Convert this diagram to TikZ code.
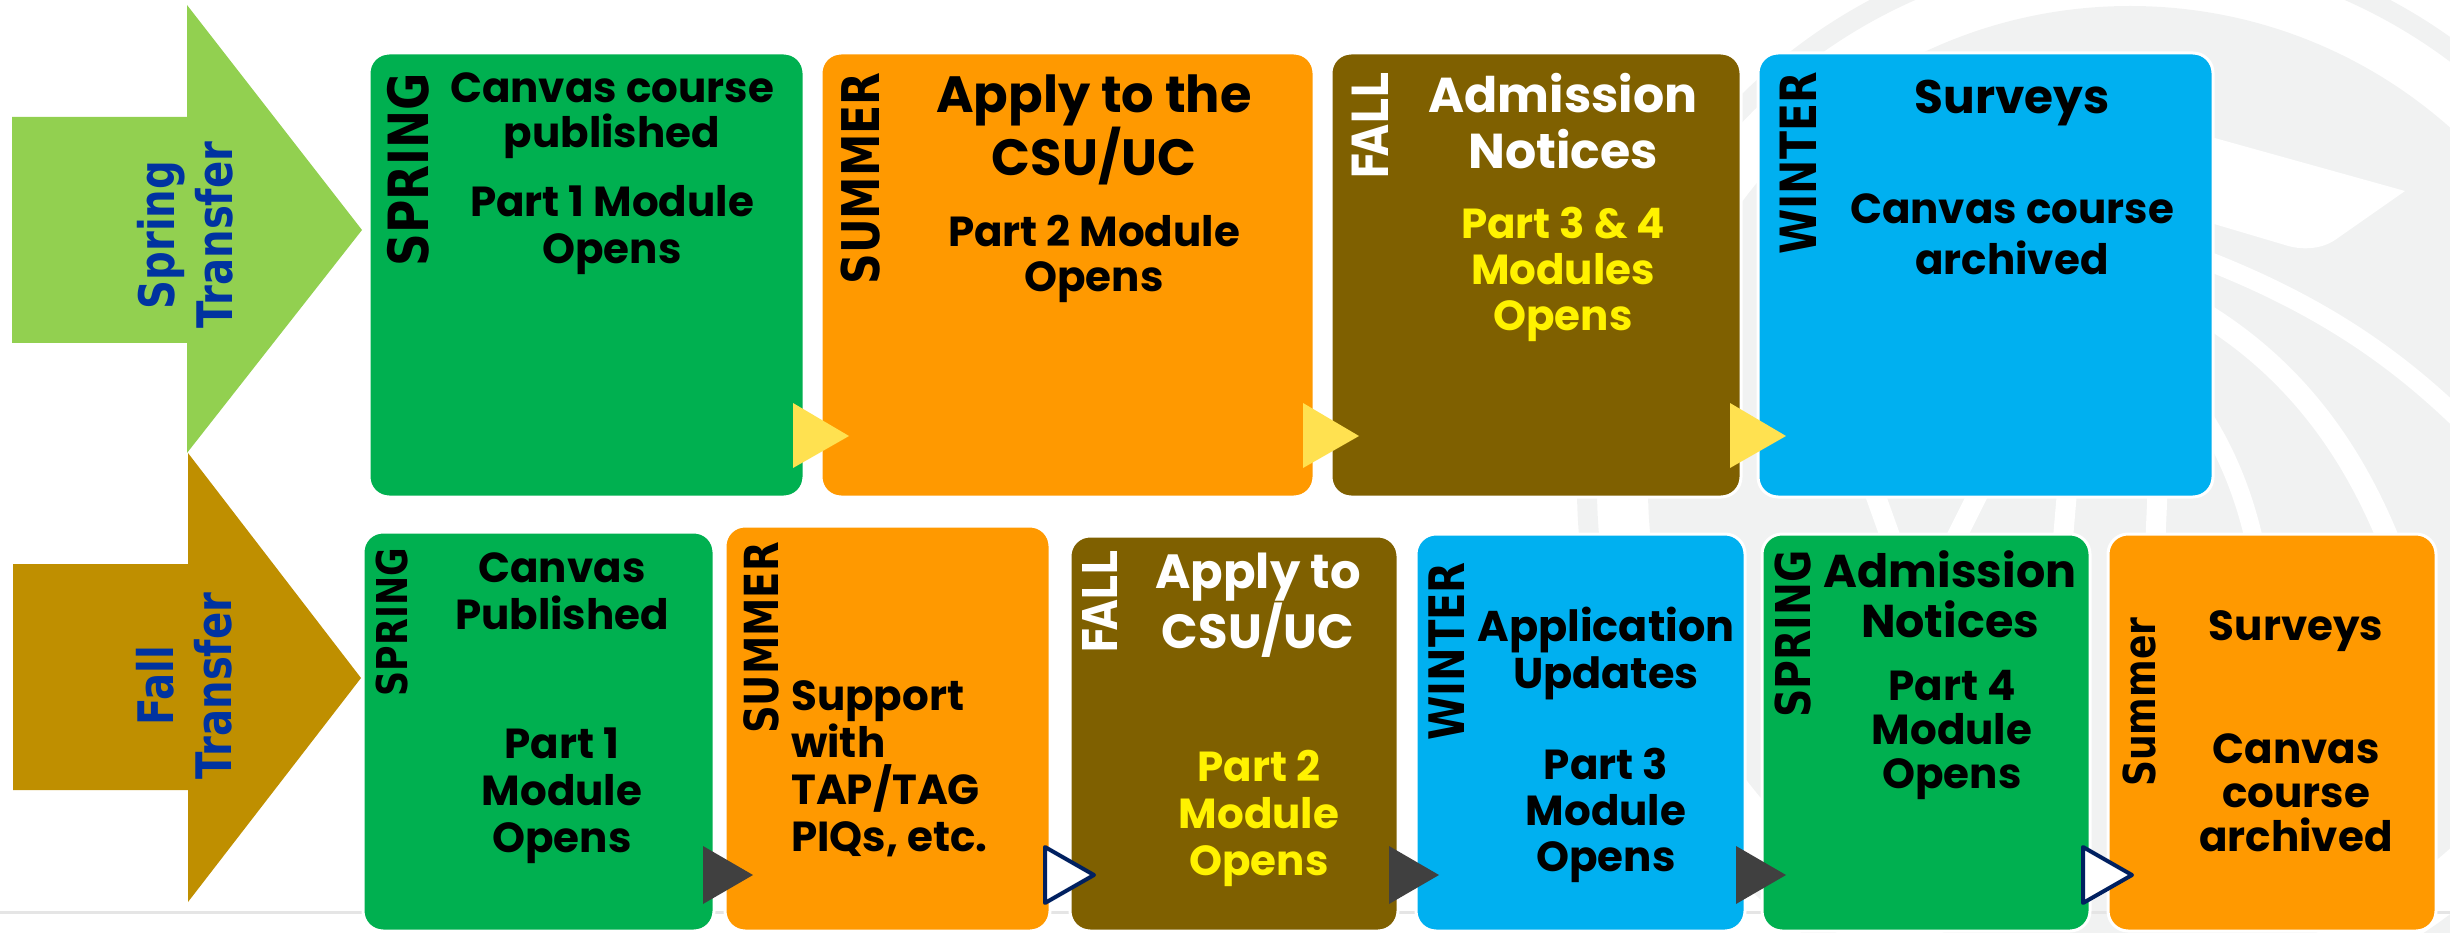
\documentclass[tikz,border=0pt]{standalone}
\usepackage{fontspec}
\usepackage{xcolor}
\usepackage{tikz}

\newfontfamily\cardfont{Poppins}
\newfontfamily\seasonfont{DejaVu Sans}[FakeStretch=0.82]

\definecolor{springgreen}{HTML}{00B050}
\definecolor{summerorange}{HTML}{FF9900}
\definecolor{fallbrown}{HTML}{7F6000}
\definecolor{winterblue}{HTML}{00B0F0}
\definecolor{lightgreen}{HTML}{92D050}
\definecolor{goldbrown}{HTML}{BF8F00}
\definecolor{tipyellow}{HTML}{FFE150}
\definecolor{tipgray}{HTML}{404040}
\definecolor{navy}{HTML}{002060}
\definecolor{labelblue}{HTML}{0033A0}
\definecolor{wmark}{HTML}{F1F2F2}

\tikzset{
  card/.style={draw=white, line width=3pt, rounded corners=20pt, inner sep=0pt},
  season/.style={font=\seasonfont\bfseries\fontsize{#1}{#1}\selectfont,
    rotate=90, anchor=east, inner sep=0pt},
  txt/.style 2 args={font=\cardfont\bfseries\fontsize{#1}{#2}\selectfont,
    align=center, anchor=north, inner sep=0pt},
  transfer/.style={font=\seasonfont\bfseries\fontsize{49}{58}\selectfont,
    rotate=90, align=center, text=labelblue, inner sep=0pt}
}

\begin{document}
\begin{tikzpicture}[x=1pt, y=-1pt]

  \useasboundingbox (0,0) rectangle (2450,933);

  % faint seal behind the right side
  \begin{scope}
    \clip (0,0) rectangle (2450,933);
    \fill[wmark] (2130,488) circle[radius=482pt];
    \draw[wmark, line width=20pt] (2130,488) circle[radius=543pt];
    \fill[white] (2150,120) -- (2405,191) -- (2335,240)
      .. controls (2320,250) and (2300,250) .. (2285,245) -- (2150,205) -- cycle;
    \draw[white, line width=19pt]
      (2150,240) .. controls (2300,290) and (2390,350) .. (2470,430);
    \draw[white, line width=22pt]
      (2150,285) .. controls (2270,340) and (2350,430) .. (2400,570);
    \draw[white, line width=18pt]
      (2150,350) .. controls (2210,410) and (2245,480) .. (2260,570);
    \foreach \xa/\xb in {1870/1895,1985/1950,2068/2062,2158/2155}
      \draw[white, line width=20pt] (\xa,480) -- (\xb,550);
  \end{scope}

  % base line
  \draw[black!10, line width=3pt] (0,912) -- (2450,912);

  % transfer arrows
  \fill[lightgreen]
    (12,117) -- (187,117) -- (187,5) -- (362,230) -- (187,453)
    -- (187,343) -- (12,343) -- cycle;
  \fill[goldbrown]
    (13,564) -- (188,564) -- (188,453) -- (361,678) -- (188,902)
    -- (188,790) -- (13,790) -- cycle;
  \node[transfer] (springtransfer) at (185,235) {Spring\\Transfer};
  \node[transfer] (falltransfer) at (184,686) {Fall\\Transfer};

  % spring transfer cards
  \node[card, fill=springgreen, minimum width=435pt, minimum height=444pt]
    (spring) at (586.5,275) {};
  \node[card, fill=summerorange, minimum width=493pt, minimum height=444pt]
    (summer) at (1067.5,275) {};
  \node[card, fill=fallbrown, minimum width=410pt, minimum height=444pt]
    (fall) at (1536,275) {};
  \node[card, fill=winterblue, minimum width=455pt, minimum height=444pt]
    (winter) at (1985.5,275) {};

  % fall transfer cards
  \node[card, fill=springgreen, minimum width=351pt, minimum height=399pt]
    (fspring) at (538.5,731.5) {};
  \node[card, fill=summerorange, minimum width=325pt, minimum height=405pt]
    (fsummer) at (887.5,728.5) {};
  \node[card, fill=fallbrown, minimum width=328pt, minimum height=395pt]
    (ffall) at (1234,733.5) {};
  \node[card, fill=winterblue, minimum width=329pt, minimum height=397pt]
    (fwinter) at (1580.5,732.5) {};
  \node[card, fill=springgreen, minimum width=328pt, minimum height=397pt]
    (fspringtwo) at (1926,732.5) {};
  \node[card, fill=summerorange, minimum width=328pt, minimum height=397pt]
    (fsummertwo) at (2272,732.5) {};

  % step markers
  \foreach \x in {793,1303,1730}
    \fill[tipyellow] (\x,403) -- (\x+56,436) -- (\x,468) -- cycle;
  \foreach \x in {703,1389,1736}
    \fill[tipgray] (\x,846) -- (\x+50,875) -- (\x,904) -- cycle;
  \foreach \x in {1045,2083}
    \draw[navy, line width=4pt, fill=white, line join=round]
      (\x,847) -- (\x+49,875) -- (\x,903) -- cycle;

  % season labels
  \node[season=55.5] (springlbl) at (408,73) {SPRING};
  \node[season=52] (summerlbl) at (861,72) {SUMMER};
  \node[season=50, text=white] (falllbl) at (1370,72) {FALL};
  \node[season=50] (winterlbl) at (1798,72) {WINTER};
  \node[season=42.5] (fspringlbl) at (392,548) {SPRING};
  \node[season=47] (fsummerlbl) at (761,542) {SUMMER};
  \node[season=48, text=white] (ffalllbl) at (1100,550) {FALL};
  \node[season=49] (fwinterlbl) at (1447,562) {WINTER};
  \node[season=48] (fspringtwolbl) at (1793,550) {SPRING};
  \node[season=44, anchor=west] (fsummertwolbl) at (2139,787) {Summer};

  % spring transfer texts
  \node[txt={42}{45}] (published) at (612,72) {Canvas course\\published};
  \node[txt={42}{47}] (partone) at (612,185) {Part 1 Module\\Opens};
  \node[txt={51}{59}] (apply) at (1094,75) {Apply to the\\CSU/UC};
  \node[txt={42}{45}] (parttwo) at (1094,215) {Part 2 Module\\Opens};
  \node[txt={49}{56}, text=white] (admission) at (1563,73) {Admission\\Notices};
  \node[txt={42}{46}, text=yellow] (partthree) at (1563,207)
    {Part 3 \& 4\\Modules\\Opens};
  \node[txt={47}{50}] (surveys) at (2012,80) {Surveys};
  \node[txt={42}{51}] (archived) at (2012,193) {Canvas course\\archived};

  % fall transfer texts
  \node[txt={42}{47}] (fpublished) at (562,552) {Canvas\\Published};
  \node[txt={42}{47}] (fpartone) at (562,728) {Part 1\\Module\\Opens};
  \node[txt={42}{47}, align=left, anchor=north west] (fsupport) at (791,680)
    {Support\\with\\TAP/TAG\\PIQs, etc.};
  \node[txt={48}{55}, text=white] (fapply) at (1258,553) {Apply to\\CSU/UC};
  \node[txt={42}{47}, text=yellow] (fparttwo) at (1259,750)
    {Part 2\\Module\\Opens};
  \node[txt={43}{47}] (fupdates) at (1606,607) {Application\\Updates};
  \node[txt={42}{46}] (fpartthree) at (1606,748) {Part 3\\Module\\Opens};
  \node[txt={46}{50}] (fadmission) at (1950,550) {Admission\\Notices};
  \node[txt={42}{44}] (fpartfour) at (1952,670) {Part 4\\Module\\Opens};
  \node[txt={42}{45}] (fsurveys) at (2296,610) {Surveys};
  \node[txt={42}{44}] (farchived) at (2296,733) {Canvas\\course\\archived};

\end{tikzpicture}
\end{document}
